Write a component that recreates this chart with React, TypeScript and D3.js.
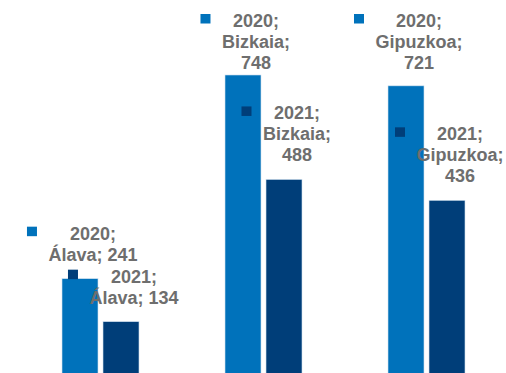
import React from "react";
import * as d3 from "d3";

const categories = ["Álava", "Bizkaia", "Gipuzkoa"];
const seriesNames = ["2020", "2021"];
const values2020 = [241, 748, 721];
const values2021 = [134, 488, 436];

const W = 506;
const H = 373;
const COLORS = ["#0072BB", "#003E79"];
const FONT = "bold 18px 'Liberation Sans', Arial, sans-serif";

let ctx: CanvasRenderingContext2D | null = null;
function measure(t: string): number {
  if (!ctx) {
    const c = document.createElement("canvas");
    ctx = c.getContext("2d");
  }
  if (!ctx) return t.length * 10;
  ctx.font = FONT;
  return ctx.measureText(t).width;
}

export default function App() {
  const series = [values2020, values2021];
  const x0 = d3.scaleBand<string>().domain(categories).range([19, 508]).padding(0);
  const bw = x0.bandwidth();
  const x1 = d3
    .scaleBand<string>()
    .domain(seriesNames)
    .range([bw / 2 - 38.5, bw / 2 + 38.5])
    .paddingInner(0.122)
    .paddingOuter(0);
  const y = d3.scaleLinear().domain([0, 800]).range([375.5, 54.1]);

  const lineH = 21;
  const bars: React.ReactNode[] = [];
  const labels: React.ReactNode[] = [];

  categories.forEach((cat, ci) => {
    seriesNames.forEach((s, si) => {
      const v = series[si][ci];
      const bx = (x0(cat) ?? 0) + (x1(s) ?? 0);
      const top = y(v);
      bars.push(
        <rect
          key={`b-${cat}-${s}`}
          x={bx}
          y={top}
          width={x1.bandwidth()}
          height={y(0) - top}
          fill={COLORS[si]}
          stroke="#cfe0ef"
          strokeWidth={0.6}
        />
      );
      const combined = `${cat}; ${v}`;
      const lines =
        measure(combined) <= 95 ? [`${s};`, combined] : [`${s};`, `${cat};`, `${v}`];
      const blockW = Math.max(...lines.map(measure));
      const cx = bx + x1.bandwidth() / 2 + 13;
      const lastBase = top - 18;
      const firstBase = Math.max(27, lastBase - (lines.length - 1) * lineH);
      const left = cx - blockW / 2;
      labels.push(
        <g key={`l-${cat}-${s}`}>
          <rect
            x={left - 21.5}
            y={firstBase - 13}
            width={10}
            height={9.5}
            fill={COLORS[si]}
          />
          {lines.map((ln, li) => (
            <text
              key={li}
              x={cx}
              y={firstBase + li * lineH}
              textAnchor="middle"
              fill="#6E6E6E"
              style={{ font: FONT }}
            >
              {ln}
            </text>
          ))}
        </g>
      );
    });
  });

  return (
    <svg
      width={W}
      height={H}
      style={{ position: "absolute", left: 0, top: 0, background: "#fff" }}
    >
      <rect width={W} height={H} fill="#fff" />
      {bars}
      {labels}
    </svg>
  );
}
